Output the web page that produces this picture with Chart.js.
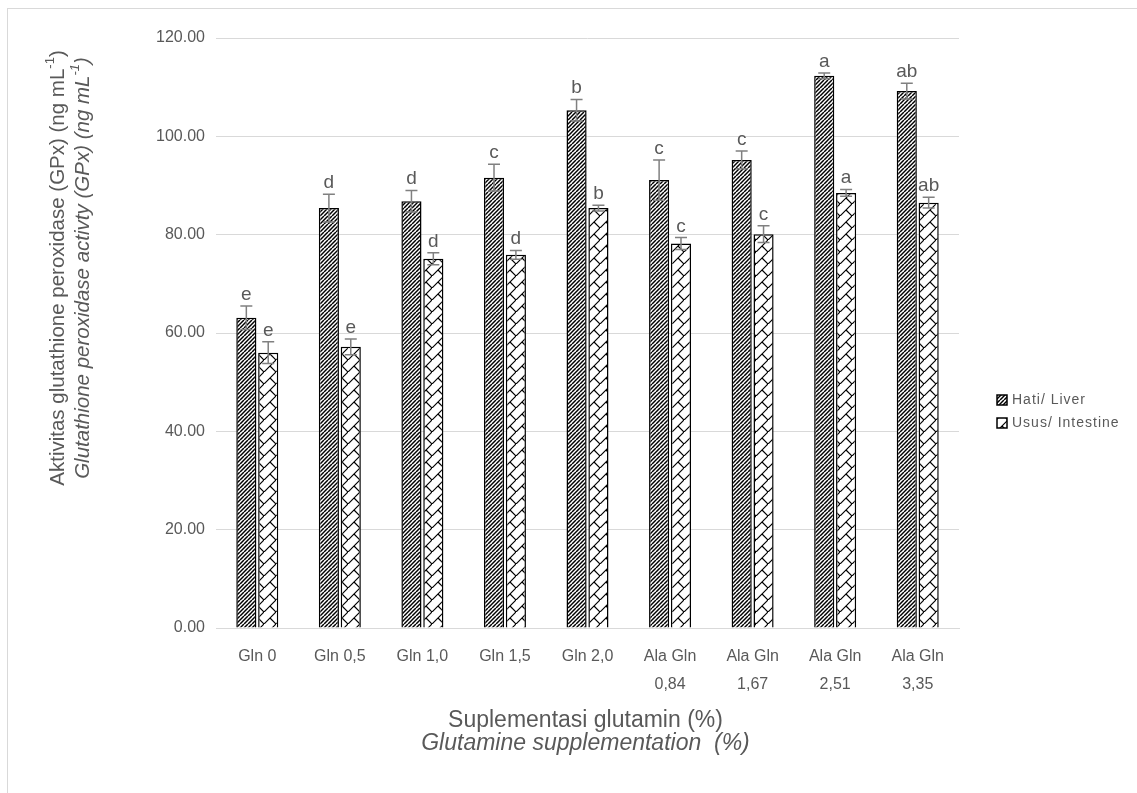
<!DOCTYPE html>
<html>
<head>
<meta charset="utf-8">
<script src="https://cdn.jsdelivr.net/npm/chart.js@4.4.0/dist/chart.umd.min.js"></script>
<style>
  html, body { margin: 0; padding: 0; background: #fff; }
  #wrap { position: relative; width: 1137px; height: 793px; overflow: hidden; }
  #frame { position: absolute; left: 7px; top: 8px; width: 1200px; height: 900px; border-left: 1px solid #d9d9d9; border-top: 1px solid #d9d9d9; }
  canvas { position: absolute; left: 0; top: 0; }
</style>
</head>
<body>
<div id="wrap">
  <div id="frame"></div>
  <canvas id="gpxChart" width="1137" height="793"></canvas>
</div>
<script>
// data
const categories = ['Gln 0', 'Gln 0,5', 'Gln 1,0', 'Gln 1,5', 'Gln 2,0',
    ['Ala Gln', '0,84'], ['Ala Gln', '1,67'], ['Ala Gln', '2,51'], ['Ala Gln', '3,35']];
const liverValues = [63.1, 85.4, 86.8, 91.6, 105.3, 91.1, 95.2, 112.3, 109.2];
const liverErrors = [2.4, 2.8, 2.2, 2.7, 2.2, 4.1, 1.8, 0.6, 1.6];
const liverLetters = ['e', 'd', 'd', 'c', 'b', 'c', 'c', 'a', 'ab'];
const intestineValues = [56.0, 57.2, 75.1, 75.9, 85.4, 78.2, 80.1, 88.5, 86.5];
const intestineErrors = [2.2, 1.6, 1.2, 0.9, 0.6, 1.2, 1.7, 0.7, 1.1];
const intestineLetters = ['e', 'e', 'd', 'd', 'b', 'c', 'c', 'a', 'ab'];
const yTicks = [0, 20, 40, 60, 80, 100, 120];

const FONT = "'Liberation Sans', Arial, sans-serif";
const GREY_TEXT = '#595959';

// hatch fills
function stripePattern() {
    const c = document.createElement('canvas');
    c.width = 8; c.height = 8;
    const g = c.getContext('2d');
    g.fillStyle = '#fff';
    g.fillRect(0, 0, 8, 8);
    g.strokeStyle = '#000';
    g.lineWidth = 1.5;
    for (let k = -8; k <= 16; k += 4) {
        g.beginPath();
        g.moveTo(k, 8);
        g.lineTo(k + 8, 0);
        g.stroke();
    }
    return g.createPattern(c, 'repeat');
}

function weavePattern() {
    const c = document.createElement('canvas');
    c.width = 12; c.height = 12;
    const g = c.getContext('2d');
    g.fillStyle = '#fff';
    g.fillRect(0, 0, 12, 12);
    g.strokeStyle = '#000';
    g.lineWidth = 1.2;
    g.beginPath();
    g.moveTo(0, 12); g.lineTo(12, 0);
    g.moveTo(6, 6); g.lineTo(12, 12);
    g.moveTo(-6, 6); g.lineTo(0, 12);
    g.stroke();
    return g.createPattern(c, 'repeat');
}

const liverFill = stripePattern();
const intestineFill = weavePattern();

const errorBars = {
    id: 'errorBars',
    afterDatasetsDraw(chart) {
        const ctx = chart.ctx;
        const y = chart.scales.y;
        const errs = [liverErrors, intestineErrors];
        const letters = [liverLetters, intestineLetters];
        ctx.save();
        chart.data.datasets.forEach((ds, di) => {
            chart.getDatasetMeta(di).data.forEach((bar, i) => {
                const v = ds.data[i];
                const top = y.getPixelForValue(v + errs[di][i]);
                const bot = y.getPixelForValue(v - errs[di][i]);
                ctx.strokeStyle = '#808080';
                ctx.lineWidth = 1.5;
                ctx.beginPath();
                ctx.moveTo(bar.x, top); ctx.lineTo(bar.x, bot);
                ctx.moveTo(bar.x - 6, top); ctx.lineTo(bar.x + 6, top);
                ctx.moveTo(bar.x - 6, bot); ctx.lineTo(bar.x + 6, bot);
                ctx.stroke();
                ctx.fillStyle = GREY_TEXT;
                ctx.font = '19px ' + FONT;
                ctx.textAlign = 'center';
                ctx.textBaseline = 'alphabetic';
                ctx.fillText(letters[di][i], bar.x, top - 6);
            });
        });
        ctx.restore();
    }
};

function richText(ctx, parts, x, y, size, style) {
    const width = p => {
        ctx.font = style + ' ' + (p.sup ? Math.round(size * 0.62) : size) + 'px ' + FONT;
        return ctx.measureText(p.t).width;
    };
    const total = parts.reduce((s, p) => s + width(p), 0);
    let cx = x - total / 2;
    parts.forEach(p => {
        const w = width(p);
        ctx.fillText(p.t, cx, p.sup ? y - size * 0.38 : y);
        cx += w;
    });
}

const titlesAndLegend = {
    id: 'titlesAndLegend',
    afterDraw(chart) {
        const ctx = chart.ctx;
        ctx.save();
        ctx.fillStyle = GREY_TEXT;
        ctx.textBaseline = 'middle';
        ctx.textAlign = 'left';

        // x axis title
        const xc = (chart.chartArea.left + chart.chartArea.right) / 2 - 2;
        richText(ctx, [{ t: 'Suplementasi glutamin (%)' }], xc, 721, 23, 'normal');
        richText(ctx, [{ t: 'Glutamine supplementation  (%)' }], xc, 744, 23, 'italic');

        // y axis title
        ctx.save();
        ctx.translate(58, 268);
        ctx.rotate(-Math.PI / 2);
        richText(ctx, [{ t: 'Aktivitas glutathione peroxidase (GPx) (ng mL' }, { t: '-1', sup: true }, { t: ')' }], 0, 0, 20.5, 'normal');
        ctx.restore();
        ctx.save();
        ctx.translate(83, 268);
        ctx.rotate(-Math.PI / 2);
        richText(ctx, [{ t: 'Glutathione peroxidase activty (GPx) (ng mL' }, { t: '-1', sup: true }, { t: ')' }], 0, 0, 20.5, 'italic');
        ctx.restore();

        // legend
        const items = [
            { label: 'Hati/ Liver', fill: liverFill, y: 400 },
            { label: 'Usus/ Intestine', fill: intestineFill, y: 423 }
        ];
        items.forEach(it => {
            ctx.fillStyle = it.fill;
            ctx.fillRect(997, it.y - 5, 10, 10);
            ctx.strokeStyle = '#000';
            ctx.lineWidth = 1.5;
            ctx.strokeRect(997, it.y - 5, 10, 10);
            ctx.fillStyle = GREY_TEXT;
            ctx.font = '14px ' + FONT;
            ctx.letterSpacing = '1px';
            ctx.textAlign = 'left';
            ctx.fillText(it.label, 1012, it.y);
            ctx.letterSpacing = '0px';
        });
        ctx.restore();
    }
};

new Chart(document.getElementById('gpxChart'), {
    type: 'bar',
    data: {
        labels: categories,
        datasets: [
            {
                label: 'Hati/ Liver',
                data: liverValues,
                backgroundColor: liverFill,
                borderColor: '#000',
                borderWidth: 1.5,
                categoryPercentage: 0.53,
                barPercentage: 0.92
            },
            {
                label: 'Usus/ Intestine',
                data: intestineValues,
                backgroundColor: intestineFill,
                borderColor: '#000',
                borderWidth: 1.5,
                categoryPercentage: 0.53,
                barPercentage: 0.92
            }
        ]
    },
    options: {
        responsive: false,
        animation: false,
        layout: { padding: { left: 8, right: 178, top: 38, bottom: 0 } },
        plugins: {
            legend: { display: false },
            tooltip: { enabled: false }
        },
        scales: {
            x: {
                grid: { display: false, drawTicks: false },
                border: { display: true, color: '#d9d9d9' },
                ticks: {
                    color: GREY_TEXT,
                    font: { family: FONT, size: 16, lineHeight: 1.75 },
                    padding: 15,
                    maxRotation: 0,
                    autoSkip: false
                },
                afterFit(s) { s.height = 165; }
            },
            y: {
                min: 0,
                max: 120,
                afterBuildTicks(s) { s.ticks = yTicks.map(v => ({ value: v })); },
                ticks: {
                    color: GREY_TEXT,
                    font: { family: FONT, size: 16 },
                    padding: 11,
                    callback: v => Number(v).toFixed(2)
                },
                grid: { color: '#d9d9d9', drawTicks: false },
                border: { display: false },
                afterFit(s) { s.width = 208; }
            }
        }
    },
    plugins: [errorBars, titlesAndLegend]
});
</script>
</body>
</html>
